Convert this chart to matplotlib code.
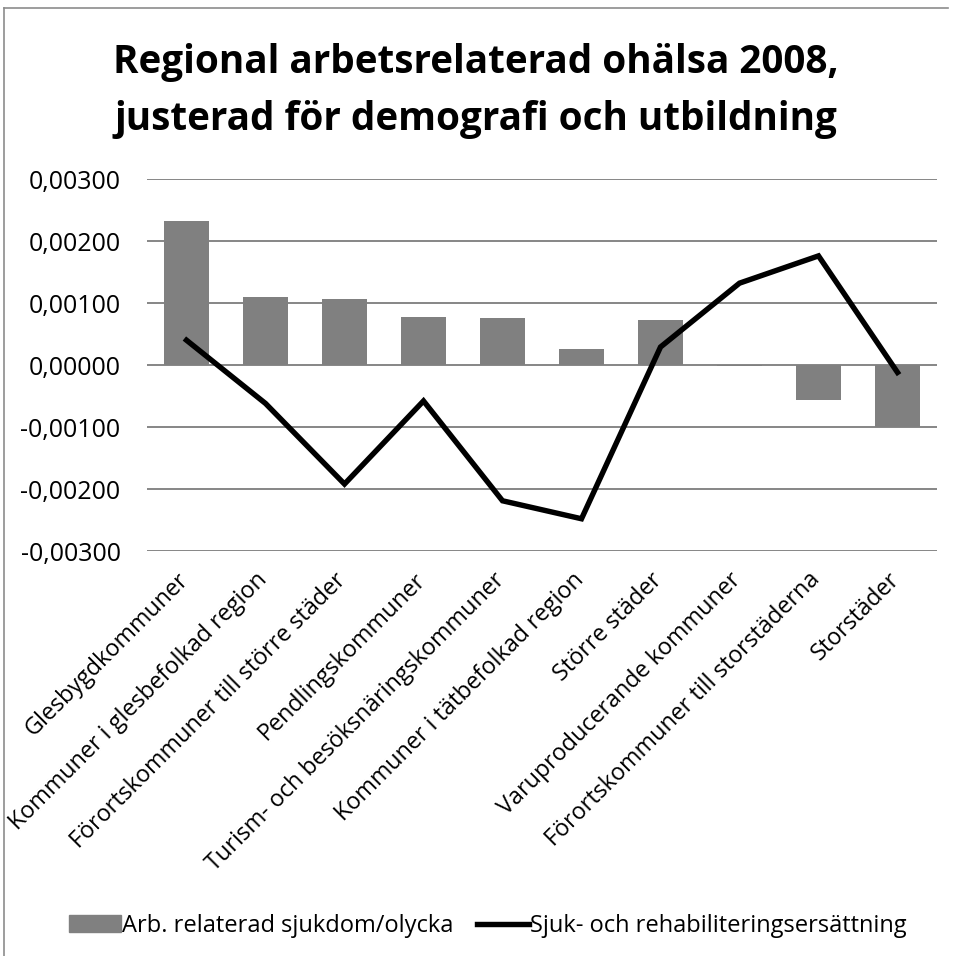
import matplotlib
matplotlib.use('Agg')
from matplotlib import pyplot as plt
from matplotlib.lines import Line2D
from matplotlib.patches import Patch
import numpy as np

# data
categories = ['Glesbygdkommuner', 'Kommuner i glesbefolkad region',
              'Förortskommuner till större städer', 'Pendlingskommuner',
              'Turism- och besöksnäringskommuner', 'Kommuner i tätbefolkad region',
              'Större städer', 'Varuproducerande kommuner',
              'Förortskommuner till storstäderna', 'Storstäder']
arb_sjukdom = [0.00233, 0.00110, 0.00106, 0.00078, 0.00076,
               0.00026, 0.00072, -0.00002, -0.00057, -0.00100]
sjuk_rehab = [0.00040, -0.00062, -0.00192, -0.00058, -0.00219,
              -0.00248, 0.00029, 0.00132, 0.00176, -0.00012]
yticks = [-0.003, -0.002, -0.001, 0.0, 0.001, 0.002, 0.003]
title_lines = ['Regional arbetsrelaterad ohälsa 2008,',
               'justerad för demografi och utbildning']

plt.rcParams['font.family'] = ['Open Sans', 'DejaVu Sans']

W, H = 955, 956
fig = plt.figure(figsize=(W / 100, H / 100), dpi=100)
ax = fig.add_axes([147 / W, 1 - 551 / H, (937 - 147) / W, (551 - 179) / H])

x = np.arange(len(categories))
ax.bar(x, arb_sjukdom, width=0.56, color='#808080', zorder=2)
ax.plot(x, sjuk_rehab, color='black', lw=3.9, zorder=3, solid_joinstyle='miter')

ax.set_xlim(-0.5, len(categories) - 0.5)
ax.set_ylim(-0.003, 0.003)
ax.set_yticks(yticks)
ax.set_yticklabels([('%.5f' % v).replace('.', ',') for v in yticks], fontsize=18)
ax.yaxis.grid(True, color='#868686', lw=1.4, zorder=1)
ax.tick_params(axis='y', length=0, pad=19)
ax.set_xticks([])
for s in ax.spines.values():
    s.set_visible(False)

# rotated category labels below the plot
for i, lab in enumerate(categories):
    ax.annotate(lab, xy=(i, -0.003), xytext=(-10, -17), textcoords='offset pixels',
                rotation=45, rotation_mode='anchor', ha='right', va='top',
                fontsize=16.8)

fig.text(0.498, 1 - 73 / H, title_lines[0], ha='center', va='baseline',
         fontsize=27.8, fontweight='bold')
fig.text(0.498, 1 - 130 / H, title_lines[1], ha='center', va='baseline',
         fontsize=27.8, fontweight='bold')

handles = [Patch(color='#808080'), Line2D([0], [0], color='black', lw=3.9)]
fig.legend(handles, ['Arb. relaterad sjukdom/olycka', 'Sjuk- och rehabiliteringsersättning'],
           loc='center', bbox_to_anchor=(0.5 + 10 / W, 1 - 926 / H), ncol=2, frameon=False,
           fontsize=17, handlelength=2.2, handletextpad=0.05, columnspacing=1.0)

# outer chart frame (left and top edges visible in the reference)
fig.add_artist(Line2D([4 / W, 4 / W], [0, 1 - 8 / H], color='#8c8c8c', lw=1.2))
fig.add_artist(Line2D([4 / W, 948 / W], [1 - 8 / H, 1 - 8 / H], color='#8c8c8c', lw=1.2))

plt.savefig('out.png', dpi=100)
